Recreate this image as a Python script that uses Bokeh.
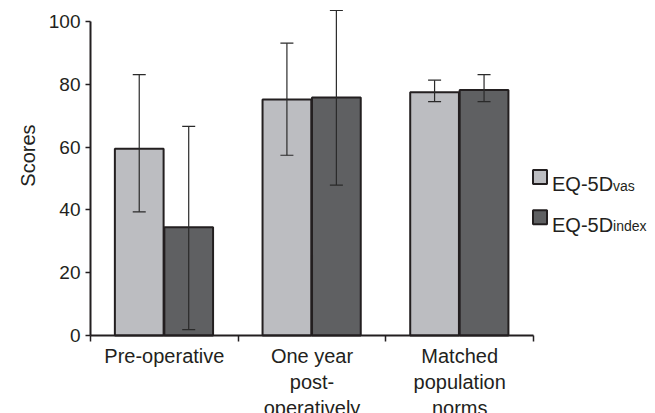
import math
from bokeh.plotting import figure
from bokeh.models import Range1d, FixedTicker, ColumnDataSource, Whisker, TeeHead
from bokeh.core.properties import value
from bokeh.embed import file_html
from bokeh.resources import INLINE

# ---- data ----
categories = ["Pre-operative", "One year\npost-\noperatively", "Matched\npopulation\nnorms"]
vas_mean = [59.5, 75.2, 77.5]
vas_lower = [39.4, 57.4, 74.5]
vas_upper = [83.1, 93.1, 81.3]
index_mean = [34.5, 75.8, 78.2]
index_lower = [1.9, 47.9, 74.5]
index_upper = [66.6, 103.5, 83.1]
y_ticks = [0, 20, 40, 60, 80, 100]
y_title = "Scores"
series_main = ["EQ-5D", "EQ-5D"]
series_sub = ["vas", "index"]

# ---- style ----
FONT = "Liberation Sans"
INK = "#231f20"
LIGHT = "#bcbdc1"
DARK = "#5f6062"
BAR_W = 0.33
OFFS = [0.33, 0.665]
FILLS = [LIGHT, DARK]

p = figure(width=655, height=413, output_backend="svg", toolbar_location=None,
           x_range=Range1d(-0.6095, 3.826), y_range=Range1d(-24.84, 106.69),
           min_border=0, min_border_left=0, min_border_right=0,
           min_border_top=0, min_border_bottom=0)
p.outline_line_color = None
p.xgrid.visible = False
p.ygrid.visible = False
p.background_fill_color = "white"
p.border_fill_color = "white"

n = len(categories)
idx = list(range(n))
series = [(vas_mean, vas_lower, vas_upper), (index_mean, index_lower, index_upper)]
for s, (m, lo, hi) in enumerate(series):
    xs = [i + OFFS[s] for i in idx]
    src = ColumnDataSource(dict(x=xs, top=m, lower=lo, upper=hi))
    p.vbar(x="x", top="top", bottom=0, width=BAR_W, source=src,
           fill_color=FILLS[s], line_color=INK, line_width=2)
    w = Whisker(source=src, base="x", upper="upper", lower="lower", dimension="height",
                level="overlay", line_color="#2a2a2a", line_width=1.2,
                upper_head=TeeHead(size=13, line_color="#2a2a2a", line_width=1.2),
                lower_head=TeeHead(size=13, line_color="#2a2a2a", line_width=1.2))
    p.add_layout(w)

# x axis: category names at group centres, ticks (minor) at group boundaries
xa = p.xaxis[0]
xa.fixed_location = 0
xa.bounds = (0, n)
xa.ticker = FixedTicker(ticks=[i + 0.5 for i in idx], minor_ticks=list(range(n + 1)))
xa.major_label_overrides = {i + 0.5: c for i, c in enumerate(categories)}
xa.major_label_text_font = FONT
xa.major_label_text_font_size = "20px"
xa.major_label_text_color = INK
xa.major_label_text_line_height = 1.2
xa.major_label_standoff = 3
xa.major_tick_line_color = None
xa.major_tick_out = 0
xa.major_tick_in = 0
xa.minor_tick_out = 6
xa.minor_tick_in = 0
xa.minor_tick_line_color = INK
xa.minor_tick_line_width = 1.5
xa.axis_line_color = INK
xa.axis_line_width = 2

ya = p.yaxis[0]
ya.fixed_location = 0
ya.bounds = (0, 100)
ya.ticker = FixedTicker(ticks=y_ticks)
ya.major_label_text_font = FONT
ya.major_label_text_font_size = "19px"
ya.major_label_text_color = INK
ya.major_label_standoff = 5
ya.major_tick_out = 5
ya.major_tick_in = 0
ya.minor_tick_line_color = None
ya.axis_line_color = INK
ya.axis_line_width = 2
ya.major_tick_line_color = INK
ya.major_tick_line_width = 1.5

# y axis title
p.text(x=[0], y=[57.3], text=[y_title], x_offset=-63, angle=math.pi / 2,
       text_align="center", text_baseline="middle", text_font=value(FONT),
       text_font_size="20px", text_color=INK)

# legend
LEG_X = n + 0.044
LEG_Y = [50.5, 37.7]
for s in range(2):
    p.rect(x=[LEG_X], y=[LEG_Y[s]], width=14, height=14, width_units="screen",
           height_units="screen", fill_color=FILLS[s], line_color=INK, line_width=2)
    p.text(x=[LEG_X], y=[LEG_Y[s]], text=[series_main[s]], x_offset=12, y_offset=7.5,
           text_baseline="alphabetic", text_font=value(FONT), text_font_size="20px",
           text_color=INK)
    p.text(x=[LEG_X], y=[LEG_Y[s]], text=[series_sub[s]], x_offset=73, y_offset=9,
           text_baseline="alphabetic", text_font=value(FONT), text_font_size="14px",
           text_color=INK)

open("out.html", "w").write(file_html(p, INLINE))
